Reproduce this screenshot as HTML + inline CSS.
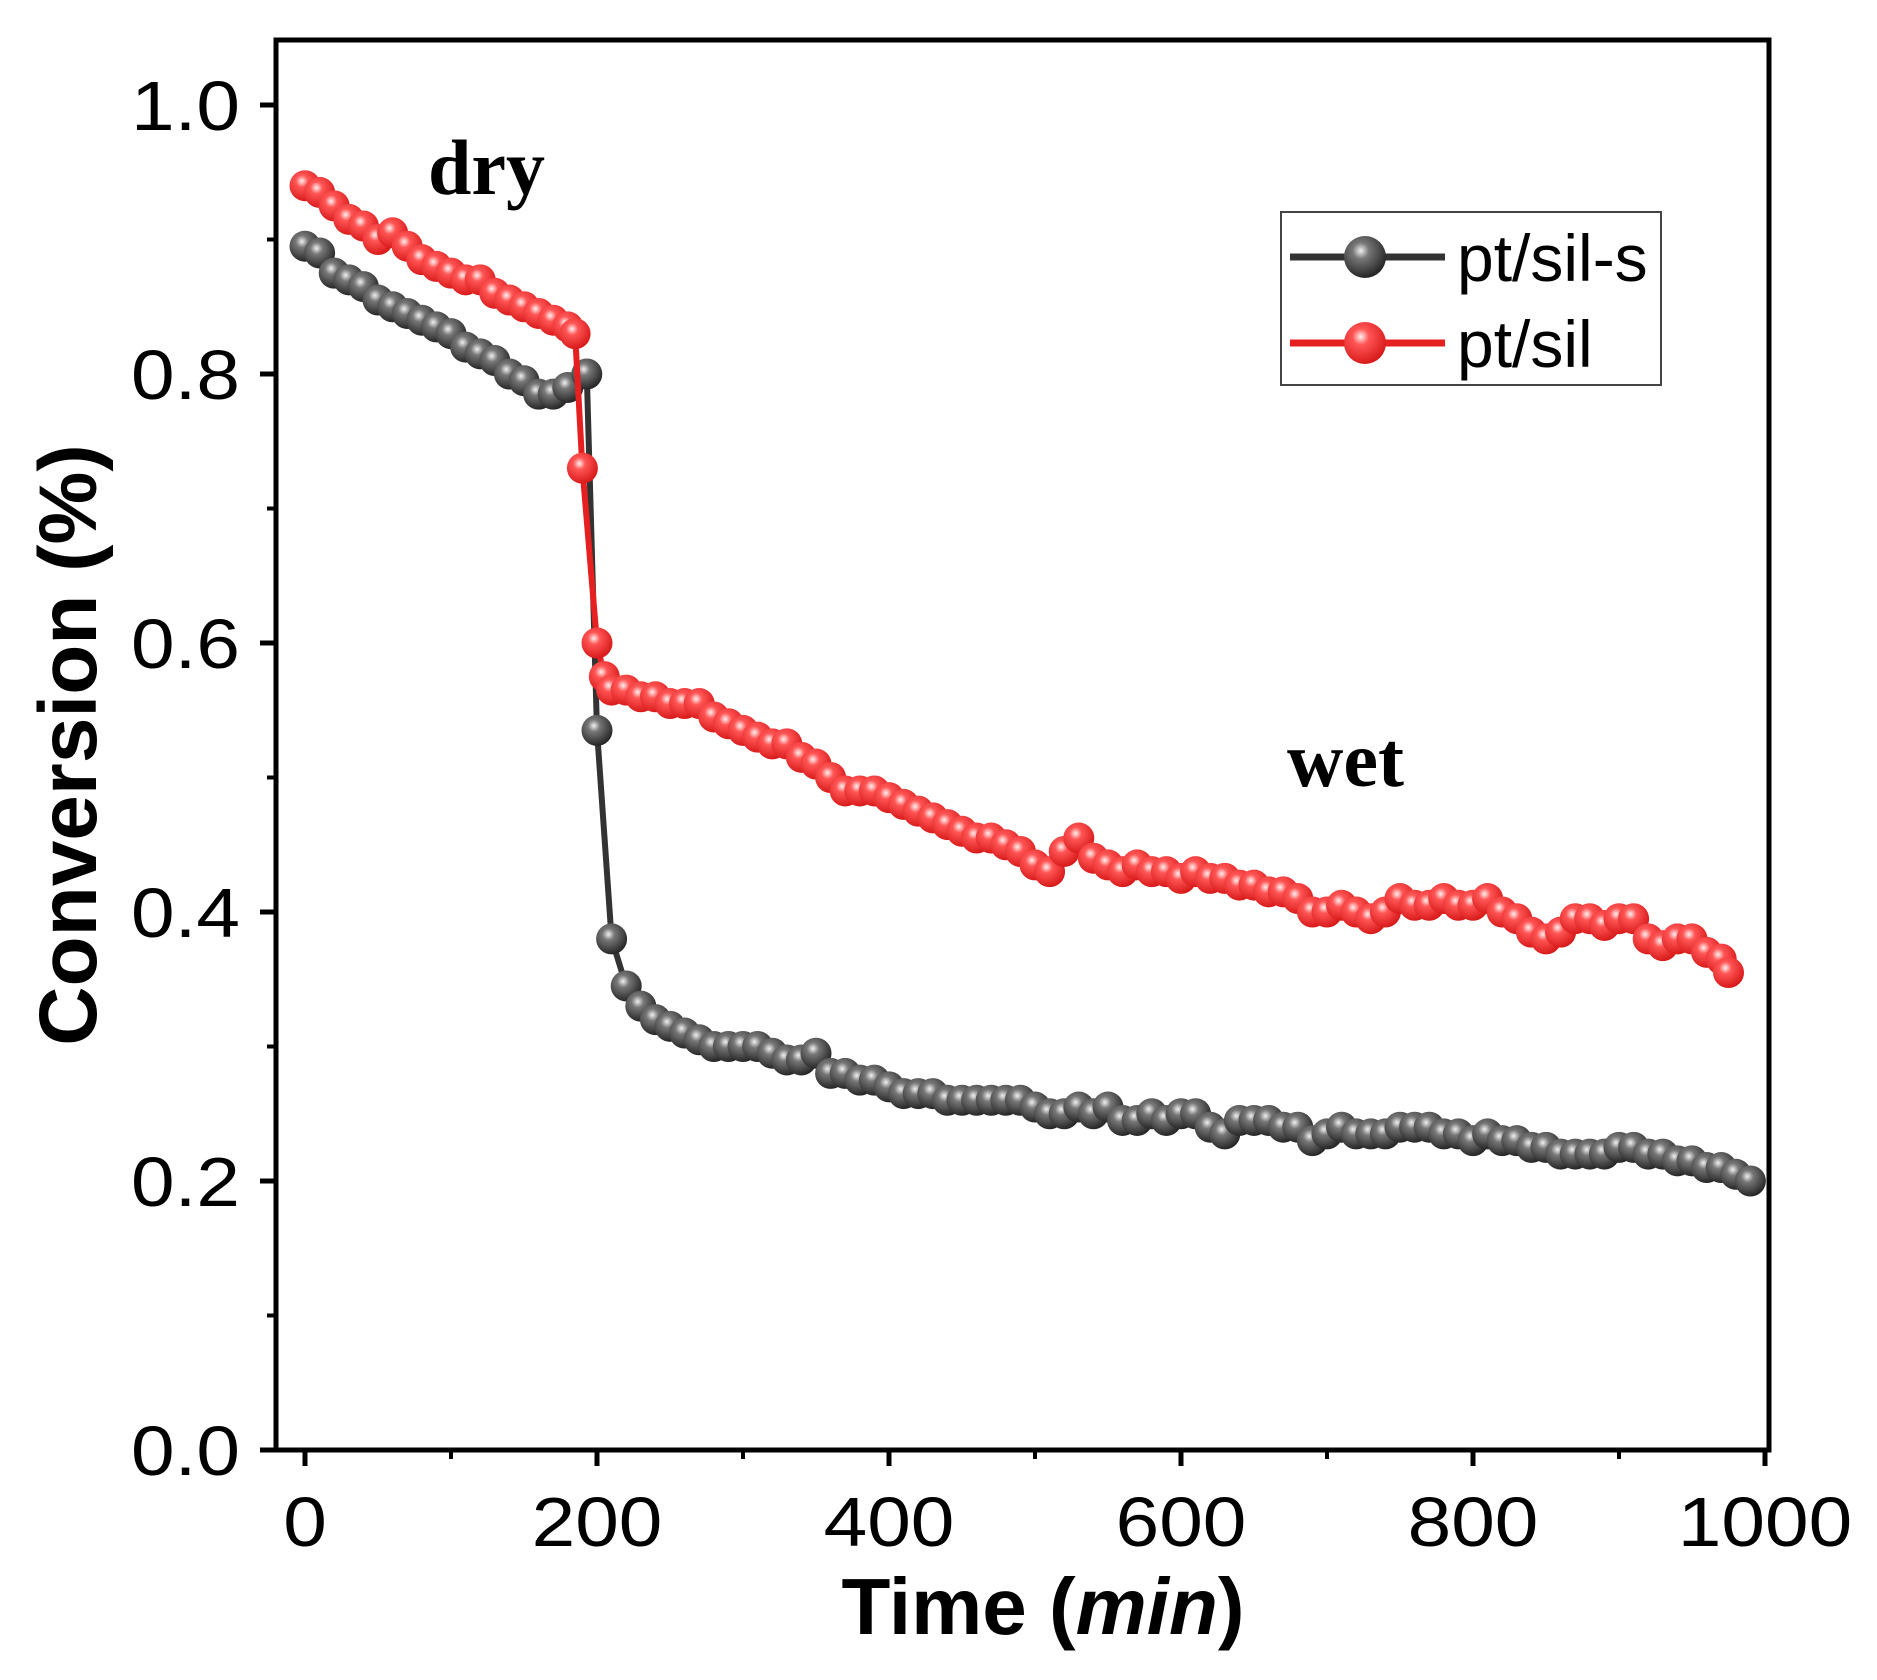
<!DOCTYPE html>
<html><head><meta charset="utf-8"><style>
html,body{margin:0;padding:0;background:#fff;}
svg{display:block;}
</style></head><body>
<svg id="chart" width="1877" height="1680" viewBox="0 0 1877 1680" xmlns="http://www.w3.org/2000/svg">
<defs>
<radialGradient id="gBlack" cx="0.4" cy="0.35" r="0.65">
<stop offset="0" stop-color="#f0f0f0"/><stop offset="0.3" stop-color="#777"/><stop offset="1" stop-color="#262626"/>
</radialGradient>
<radialGradient id="gRed" cx="0.4" cy="0.35" r="0.65">
<stop offset="0" stop-color="#fff0f0"/><stop offset="0.3" stop-color="#f55"/><stop offset="1" stop-color="#d81a1a"/>
</radialGradient>
</defs>
<g id="axes"></g>
<g id="series"></g>
<text x="428" y="194" font-family="Liberation Serif, serif" font-weight="bold" font-size="78">dry</text>
<text x="1287" y="786" font-family="Liberation Serif, serif" font-weight="bold" font-size="78">wet</text>
<g>
<rect x="1281" y="212" width="380" height="173" fill="#fff" stroke="#444" stroke-width="2"/>
<g>
<line x1="1290" y1="257" x2="1445" y2="257" stroke="#333" stroke-width="7"/>
<circle cx="1365" cy="257" r="21" fill="url(#gBlack)"/>
<text x="1457" y="281" font-family="Liberation Sans, sans-serif" font-size="66">pt/sil-s</text>
</g>
<g>
<line x1="1290" y1="343" x2="1445" y2="343" stroke="#e62020" stroke-width="7"/>
<circle cx="1365" cy="343" r="21" fill="url(#gRed)"/>
<text x="1457" y="367" font-family="Liberation Sans, sans-serif" font-size="66">pt/sil</text>
</g>
</g>
<text x="1043" y="1634" text-anchor="middle" font-family="Liberation Sans, sans-serif" font-weight="bold" font-size="80">Time (<tspan font-style="italic">min</tspan>)</text>
<text transform="translate(96,745) rotate(-90)" text-anchor="middle" font-family="Liberation Sans, sans-serif" font-weight="bold" font-size="82">Conversion (%)</text>
</svg>
<script>
const xTicks = [0, 200, 400, 600, 800, 1000];
const yTicks = [0.0, 0.2, 0.4, 0.6, 0.8, 1.0];
const xTickLabels = ["0", "200", "400", "600", "800", "1000"];
const yTickLabels = ["0.0", "0.2", "0.4", "0.6", "0.8", "1.0"];
const blackX = [0,10,20,30,40,50,60,70,80,90,100,110,120,130,140,150,160,170,180,193,200,210,220,230,240,250,260,270,280,290,300,310,320,330,340,350,360,370,380,390,400,410,420,430,440,450,460,470,480,490,500,510,520,530,540,550,560,570,580,590,600,610,620,630,640,650,660,670,680,690,700,710,720,730,740,750,760,770,780,790,800,810,820,830,840,850,860,870,880,890,900,910,920,930,940,950,960,970,980,990];
const blackY = [0.895,0.89,0.875,0.87,0.865,0.855,0.85,0.845,0.84,0.835,0.83,0.82,0.815,0.81,0.80,0.795,0.785,0.785,0.79,0.80,0.535,0.38,0.345,0.33,0.32,0.315,0.31,0.305,0.30,0.30,0.30,0.30,0.295,0.29,0.29,0.295,0.28,0.28,0.275,0.275,0.27,0.265,0.265,0.265,0.26,0.26,0.26,0.26,0.26,0.26,0.255,0.25,0.25,0.255,0.25,0.255,0.245,0.245,0.25,0.245,0.25,0.25,0.24,0.235,0.245,0.245,0.245,0.24,0.24,0.23,0.235,0.24,0.235,0.235,0.235,0.24,0.24,0.24,0.235,0.235,0.23,0.235,0.23,0.23,0.225,0.225,0.22,0.22,0.22,0.22,0.225,0.225,0.22,0.22,0.215,0.215,0.21,0.21,0.205,0.20];
const redX = [0,10,20,30,40,50,60,70,80,90,100,110,120,130,140,150,160,170,180,185,190,200,205,210,220,230,240,250,260,270,280,290,300,310,320,330,340,350,360,370,380,390,400,410,420,430,440,450,460,470,480,490,500,510,520,530,540,550,560,570,580,590,600,610,620,630,640,650,660,670,680,690,700,710,720,730,740,750,760,770,780,790,800,810,820,830,840,850,860,870,880,890,900,910,920,930,940,950,960,970,975];
const redY = [0.94,0.935,0.925,0.915,0.91,0.90,0.905,0.895,0.885,0.88,0.875,0.87,0.87,0.86,0.855,0.85,0.845,0.84,0.835,0.83,0.73,0.60,0.575,0.565,0.565,0.56,0.56,0.555,0.555,0.555,0.545,0.54,0.535,0.53,0.525,0.525,0.515,0.51,0.50,0.49,0.49,0.49,0.485,0.48,0.475,0.47,0.465,0.46,0.455,0.455,0.45,0.445,0.435,0.43,0.445,0.455,0.44,0.435,0.43,0.435,0.43,0.43,0.425,0.43,0.425,0.425,0.42,0.42,0.415,0.415,0.41,0.40,0.40,0.405,0.40,0.395,0.40,0.41,0.405,0.405,0.41,0.405,0.405,0.41,0.40,0.395,0.385,0.38,0.385,0.395,0.395,0.39,0.395,0.395,0.38,0.375,0.38,0.38,0.37,0.365,0.355];

const NS = "http://www.w3.org/2000/svg";
const X0 = 305, XS = 1.46, Y0 = 1450, YS = 1345;
function sx(v){ return X0 + v * XS; }
function sy(v){ return Y0 - v * YS; }
function mk(tag, attrs, parent){
  const e = document.createElementNS(NS, tag);
  for (const k in attrs) e.setAttribute(k, attrs[k]);
  parent.appendChild(e);
  return e;
}
const axes = document.getElementById('axes');
const frame = mk('rect', {x:276, y:40, width:1493, height:1410, fill:'none', stroke:'#000', 'stroke-width':5}, axes);


xTicks.forEach((v, i) => {
  const t = mk('line', {x1:sx(v), x2:sx(v), y1:Y0, y2:Y0+16, stroke:'#000', 'stroke-width':5}, axes);
  
  
  const l = mk('text', {x:sx(v), y:1546, 'text-anchor':'middle', 'font-family':'Liberation Sans, sans-serif', 'font-size':70, transform:'translate(' + sx(v) + ',0) scale(1.12,1) translate(' + (-sx(v)) + ',0)'}, axes);
  l.textContent = xTickLabels[i];
  
  
  if (i < xTicks.length - 1) {
    const m = mk('line', {x1:sx(v+100), x2:sx(v+100), y1:Y0, y2:Y0+9, stroke:'#000', 'stroke-width':4}, axes);
    
    
  }
});
yTicks.forEach((v, i) => {
  const t = mk('line', {x1:276-16, x2:276, y1:sy(v), y2:sy(v), stroke:'#000', 'stroke-width':5}, axes);
  
  
  const l = mk('text', {x:240, y:sy(v)+25, 'text-anchor':'end', 'font-family':'Liberation Sans, sans-serif', 'font-size':70, transform:'translate(240,0) scale(1.12,1) translate(-240,0)'}, axes);
  l.textContent = yTickLabels[i];
  
  
  if (i < yTicks.length - 1) {
    const m = mk('line', {x1:276-9, x2:276, y1:sy(v+0.1), y2:sy(v+0.1), stroke:'#000', 'stroke-width':4}, axes);
    
    
  }
});
const series = document.getElementById('series');
function drawSeries(xs, ys, color, grad, name){
  const g = mk('g', {}, series);
  
  
  const pts = xs.map((x, i) => sx(x) + ',' + sy(ys[i])).join(' ');
  const pl = mk('polyline', {points:pts, fill:'none', stroke:color, 'stroke-width':6}, g);
  
  
  xs.forEach((x, i) => {
    const c = mk('circle', {cx:sx(x), cy:sy(ys[i]), r:15.5, fill:'url(#' + grad + ')'}, g);
    
    
  });
}
drawSeries(blackX, blackY, '#333', 'gBlack', 'series-pt-sil-s');
drawSeries(redX, redY, '#e62020', 'gRed', 'series-pt-sil');
</script>
</body></html>
